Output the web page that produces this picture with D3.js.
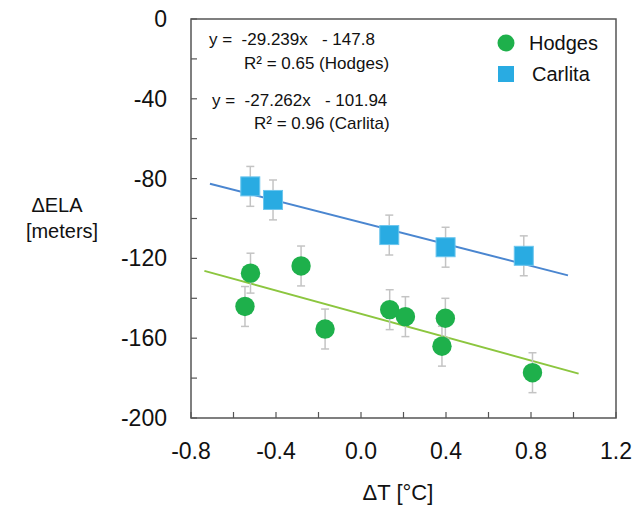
<!DOCTYPE html>
<html>
<head>
<meta charset="utf-8">
<script src="https://cdn.jsdelivr.net/npm/d3@7"></script>
<style>
  body { margin: 0; background: #fff; }
  text { font-family: "Liberation Sans", Arial, Helvetica, sans-serif; fill: #111; }
</style>
</head>
<body>
<script>
// values
var hodgesT   = [-0.546, -0.52, -0.282, -0.169, 0.135, 0.209, 0.381, 0.397, 0.807];
var hodgesELA = [-144.1, -127.4, -123.8, -155.4, -145.7, -149.2, -164.0, -150.0, -177.3];
var carlitaT   = [-0.521, -0.414, 0.133, 0.398, 0.766];
var carlitaELA = [-83.9, -90.7, -108.3, -114.4, -118.7];
var errBar = 10;  // +/- meters

// fitted lines: slope, intercept, x extent
var hodgesFit  = {m: -29.239, b: -147.8, from: -0.737, to: 1.024};
var carlitaFit = {m: -27.262, b: -101.94, from: -0.711, to: 0.974};

var xTicks = [-0.8, -0.6, -0.4, -0.2, 0.0, 0.2, 0.4, 0.6, 0.8, 1.0, 1.2];
var xLabels = [-0.8, -0.4, 0.0, 0.4, 0.8, 1.2];
var yTicks = [0, -20, -40, -60, -80, -100, -120, -140, -160, -180, -200];
var yLabels = [0, -40, -80, -120, -160, -200];

var equations = [
    {t: "y =  -29.239x   - 147.8", x: 209, y: 39},
    {t: "R\u00b2 = 0.65 (Hodges)", x: 244, y: 63},
    {t: "y =  -27.262x   - 101.94", x: 212, y: 100},
    {t: "R\u00b2 = 0.96 (Carlita)", x: 254, y: 123}
];

var green = "#1eb04b", lightBlue = "#29abe2", greenLine = "#8cc63f", blueLine = "#4a86d0";

var W = 634, H = 506;
var plot = {left: 191, right: 616, top: 19, bottom: 418};

var x = d3.scaleLinear().domain([-0.8, 1.2]).range([plot.left, plot.right]);
var y = d3.scaleLinear().domain([0, -200]).range([plot.top, plot.bottom]);

var svg = d3.select("body").append("svg")
    .attr("width", W)
    .attr("height", H);

// frame
svg.append("rect")
    .attr("x", plot.left).attr("y", plot.top)
    .attr("width", plot.right - plot.left).attr("height", plot.bottom - plot.top)
    .attr("fill", "none").attr("stroke", "#555").attr("stroke-width", 1.5);

// inward ticks
svg.append("g").selectAll("line").data(xTicks).enter().append("line")
    .attr("x1", function(d) { return x(d); }).attr("x2", function(d) { return x(d); })
    .attr("y1", plot.bottom).attr("y2", plot.bottom - 6)
    .attr("stroke", "#555").attr("stroke-width", 1.2);

svg.append("g").selectAll("line").data(yTicks).enter().append("line")
    .attr("y1", function(d) { return y(d); }).attr("y2", function(d) { return y(d); })
    .attr("x1", plot.left).attr("x2", plot.left + 6)
    .attr("stroke", "#555").attr("stroke-width", 1.2);

// tick labels
svg.append("g").selectAll("text").data(xLabels).enter().append("text")
    .attr("x", function(d) { return x(d); })
    .attr("y", 459)
    .attr("text-anchor", "middle")
    .style("font-size", "23px")
    .text(function(d) { return d3.format(".1f")(d).replace("\u2212", "-"); });

svg.append("g").selectAll("text").data(yLabels).enter().append("text")
    .attr("x", 167)
    .attr("y", function(d) { return y(d); })
    .attr("dy", "0.35em")
    .attr("text-anchor", "end")
    .style("font-size", "23px")
    .text(function(d) { return String(d); });

// axis titles
svg.append("text").attr("x", 398).attr("y", 500)
    .attr("text-anchor", "middle").style("font-size", "22px")
    .text("\u0394T [\u00b0C]");
svg.append("text").attr("x", 57).attr("y", 212)
    .attr("text-anchor", "middle").style("font-size", "20px")
    .text("\u0394ELA");
svg.append("text").attr("x", 62).attr("y", 238)
    .attr("text-anchor", "middle").style("font-size", "20px")
    .text("[meters]");

// regression lines
function fitLine(f, color) {
    var pts = [f.from, f.to].map(function(t) { return [x(t), y(f.m * t + f.b)]; });
    svg.append("path")
        .attr("d", d3.line()(pts))
        .attr("stroke", color).attr("stroke-width", 2).attr("fill", "none");
}
fitLine(carlitaFit, blueLine);
fitLine(hodgesFit, greenLine);

// error bars
function errorBars(ts, vs) {
    var g = svg.append("g").attr("stroke", "#c4c4c4").attr("stroke-width", 1.5);
    ts.forEach(function(t, i) {
        var cx = x(t), y1 = y(vs[i] + errBar), y2 = y(vs[i] - errBar);
        g.append("line").attr("x1", cx).attr("x2", cx).attr("y1", y1).attr("y2", y2);
        g.append("line").attr("x1", cx - 4).attr("x2", cx + 4).attr("y1", y1).attr("y2", y1);
        g.append("line").attr("x1", cx - 4).attr("x2", cx + 4).attr("y1", y2).attr("y2", y2);
    });
}
errorBars(carlitaT, carlitaELA);
errorBars(hodgesT, hodgesELA);

// markers
svg.append("g").selectAll("rect").data(carlitaT).enter().append("rect")
    .attr("x", function(d) { return x(d) - 9.5; })
    .attr("y", function(d, i) { return y(carlitaELA[i]) - 9.5; })
    .attr("width", 19).attr("height", 19)
    .attr("fill", lightBlue).attr("stroke", "#6cc6ee").attr("stroke-width", 1);

svg.append("g").selectAll("circle").data(hodgesT).enter().append("circle")
    .attr("cx", function(d) { return x(d); })
    .attr("cy", function(d, i) { return y(hodgesELA[i]); })
    .attr("r", 9.7)
    .attr("fill", green);

// equations
svg.append("g").selectAll("text").data(equations).enter().append("text")
    .attr("x", function(d) { return d.x; })
    .attr("y", function(d) { return d.y; })
    .attr("dy", "0.35em")
    .style("font-size", "17px")
    .style("white-space", "pre")
    .text(function(d) { return d.t; });

// legend
var leg = svg.append("g");
leg.append("circle").attr("cx", 506).attr("cy", 43).attr("r", 8.5).attr("fill", green);
leg.append("rect").attr("x", 498).attr("y", 66).attr("width", 16).attr("height", 16)
    .attr("fill", lightBlue);
leg.append("text").attr("x", 529).attr("y", 43).attr("dy", "0.35em")
    .style("font-size", "20px").text("Hodges");
leg.append("text").attr("x", 532).attr("y", 74).attr("dy", "0.35em")
    .style("font-size", "20px").text("Carlita");
</script>
</body>
</html>
